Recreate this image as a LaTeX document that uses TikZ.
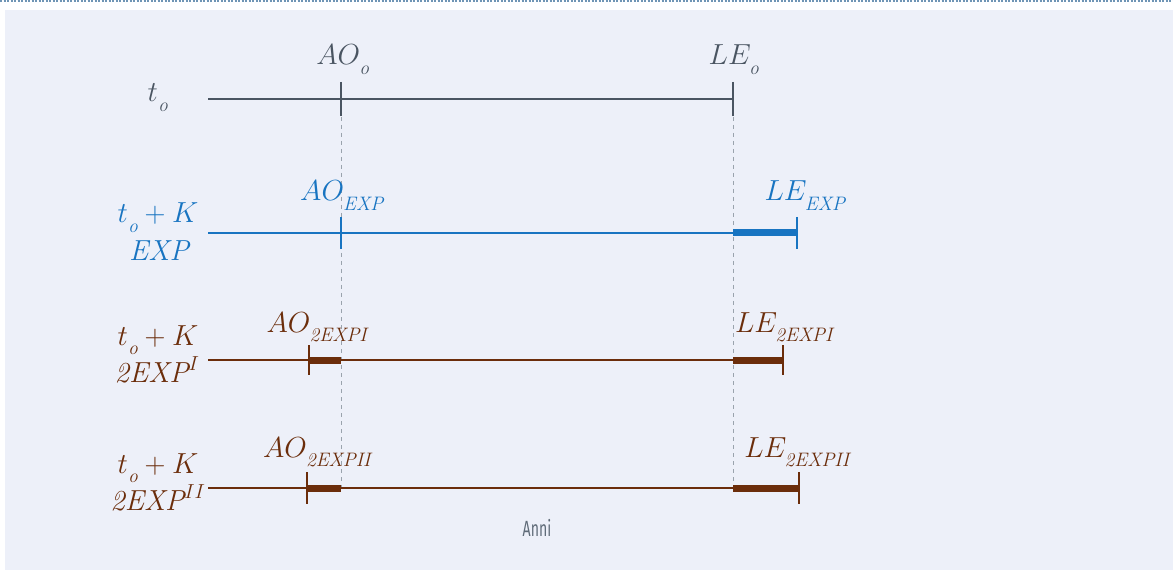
\RequirePackage{fix-cm}
\documentclass[tikz,border=0pt]{standalone}
\usepackage{fontspec}
\newfontfamily\annifont[FakeStretch=0.64]{Fira Sans}
\usetikzlibrary{positioning}
\definecolor{slate}{HTML}{4A5562}
\definecolor{expblue}{HTML}{1874C1}
\definecolor{expbrown}{HTML}{6B2D0B}
\definecolor{guide}{HTML}{9AA3AD}
\definecolor{panel}{HTML}{EDF0F9}
\definecolor{topline}{HTML}{6F95B5}
\definecolor{axisgray}{HTML}{5F6B78}
\newcommand{\lsub}[1]{_{\lower5pt\hbox{\fontsize{19.5}{20}\selectfont$\mathit{#1}$}}}

\begin{document}
\begin{tikzpicture}[x=1pt, y=-1pt,
lbl/.style={font=\fontsize{29}{31}\selectfont, inner sep=0pt, anchor=base},
tline/.style={line width=2.5pt},
tbar/.style={line width=7pt},
ttick/.style={line width=2.5pt},
guideline/.style={draw=guide, line width=1pt, dash pattern=on 4pt off 4pt},
]
\useasboundingbox (0,0) rectangle (1173,572);
\fill[panel] (5,10) rectangle (1173,570);
\draw[topline, line width=2pt, dash pattern=on 2pt off 1.5pt] (0,1.5) -- (1173,1.5);

% row coordinates
\coordinate (s0)  at (208,99);
\coordinate (ao0) at (341,99);
\coordinate (le0) at (733,99);

\coordinate (s1)  at (208,233);
\coordinate (ao1) at (341,233);
\coordinate (le1) at (733,233);
\coordinate (e1)  at (797,233);

\coordinate (s2)  at (208,360);
\coordinate (a2)  at (309,360);
\coordinate (ao2) at (341,360);
\coordinate (le2) at (733,360);
\coordinate (e2)  at (783,360);

\coordinate (s3)  at (208,488);
\coordinate (a3)  at (307,488);
\coordinate (ao3) at (341,488);
\coordinate (le3) at (733,488);
\coordinate (e3)  at (799,488);

% guides
\draw[guideline] (ao0) ++(0,18) -- (ao3);
\draw[guideline] (le0) ++(0,18) -- (le3);

% t_o
\draw[tline, draw=slate] (s0) -- (le0);
\draw[ttick, draw=slate] (ao0) ++(0,-17) -- ++(0,34);
\draw[ttick, draw=slate] (le0) ++(0,-17) -- ++(0,34);

% t_o + K EXP
\draw[tline, draw=expblue] (s1) -- (le1);
\draw[tbar, draw=expblue] (le1) -- (e1);
\draw[ttick, draw=expblue] (ao1) ++(0,-16) -- ++(0,32);
\draw[ttick, draw=expblue] (e1) ++(0,-16) -- ++(0,32);

% t_o + K 2EXP^I
\draw[tline, draw=expbrown] (s2) -- (le2);
\draw[tbar, draw=expbrown] (a2) -- (ao2);
\draw[tbar, draw=expbrown] (le2) -- (e2);
\draw[ttick, draw=expbrown] (a2) ++(0,-15) -- ++(0,30);
\draw[ttick, draw=expbrown] (e2) ++(0,-15) -- ++(0,30);

% t_o + K 2EXP^II
\draw[tline, draw=expbrown] (s3) -- (le3);
\draw[tbar, draw=expbrown] (a3) -- (ao3);
\draw[tbar, draw=expbrown] (le3) -- (e3);
\draw[ttick, draw=expbrown] (a3) ++(0,-16) -- ++(0,32);
\draw[ttick, draw=expbrown] (e3) ++(0,-16) -- ++(0,32);

% labels
\node[lbl, text=slate]    (lt0)  at (158,102) {$t\lsub{o}$};
\node[lbl, text=slate]    (lao0) at (343,65)  {$AO\lsub{o}$};
\node[lbl, text=slate]    (lle0) at (734,65)  {$LE\lsub{o}$};

\node[lbl, text=expblue]  (lt1)  at (158,223) {$t\lsub{o} + K$};
\node[lbl, text=expblue]  (lk1)  at (159,261) {$\mathit{EXP}$};
\node[lbl, text=expblue]  (lao1) at (342,201) {$AO\lsub{EXP}$};
\node[lbl, text=expblue]  (lle1) at (805,201) {$LE\lsub{EXP}$};

\node[lbl, text=expbrown] (lt2)  at (158,345) {$t\lsub{o} + K$};
\node[lbl, text=expbrown] (lk2)  at (157,382) {$\mathit{2EXP}^{I}$};
\node[lbl, text=expbrown] (lao2) at (317,332) {$AO\lsub{2EXPI}$};
\node[lbl, text=expbrown] (lle2) at (784,332) {$LE\lsub{2EXPI}$};

\node[lbl, text=expbrown] (lt3)  at (158,473) {$t\lsub{o} + K$};
\node[lbl, text=expbrown] (lk3)  at (158,510) {$\mathit{2EXP}^{II}$};
\node[lbl, text=expbrown] (lao3) at (317,457) {$AO\lsub{2EXPII}$};
\node[lbl, text=expbrown] (lle3) at (797,457) {$LE\lsub{2EXPII}$};

\node[inner sep=0pt, anchor=base, text=axisgray, font=\annifont\fontsize{22}{24}\selectfont] (anni) at (537,536) {Anni};
\end{tikzpicture}
\end{document}
